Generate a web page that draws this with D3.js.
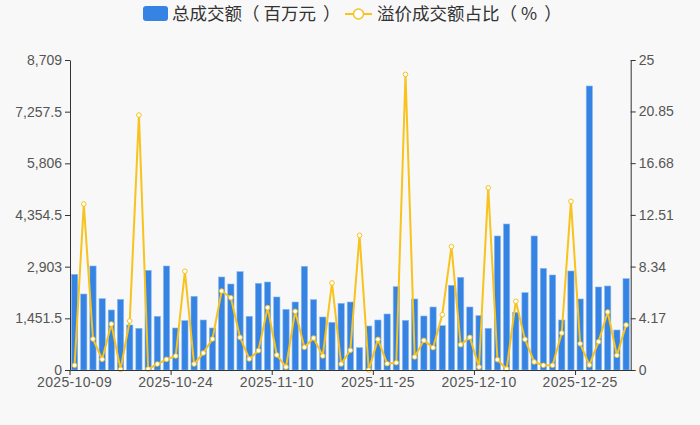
<!DOCTYPE html>
<html><head><meta charset="utf-8">
<script src="https://cdn.jsdelivr.net/npm/d3@7/dist/d3.min.js"></script>
<style>
html,body{margin:0;padding:0;background:#f8f8f8;}
svg{display:block;font-family:"Noto Sans CJK SC","Noto Sans",sans-serif;}
</style></head>
<body><svg id="c" width="700" height="425"></svg>
<script>
const dates = ["2025-10-09","2025-10-10","2025-10-13","2025-10-14","2025-10-15","2025-10-16","2025-10-17","2025-10-20","2025-10-21","2025-10-22","2025-10-23","2025-10-24","2025-10-27","2025-10-28","2025-10-29","2025-10-30","2025-10-31",
"2025-11-03","2025-11-04","2025-11-05","2025-11-06","2025-11-07","2025-11-10","2025-11-11","2025-11-12","2025-11-13","2025-11-14","2025-11-17","2025-11-18","2025-11-19","2025-11-20","2025-11-21","2025-11-24","2025-11-25","2025-11-26","2025-11-27","2025-11-28",
"2025-12-01","2025-12-02","2025-12-03","2025-12-04","2025-12-05","2025-12-08","2025-12-09","2025-12-10","2025-12-11","2025-12-12","2025-12-15","2025-12-16","2025-12-17","2025-12-18","2025-12-19","2025-12-22","2025-12-23","2025-12-24","2025-12-25","2025-12-26","2025-12-29","2025-12-30","2025-12-31","2026-01-05"];
const totalVolume = [2688,2135,2922,2004,1686,1985,1264,1171,2800,1508,
2922,1180,1386,2070,1405,1180,2613,2416,2763,1508,
2435,2472,2051,1704,1910,2913,1976,1489,1339,1873,
1910,627,1236,1405,1573,2341,1395,1995,1517,1770,
1246,2379,2603,1770,1526,1171,3765,4102,1620,2173,
3765,2856,2669,1405,2781,1995,7979,2332,2360,1124,2566];
const premiumShare = [0.38,13.39,2.50,0.86,3.71,0.05,3.95,20.56,0.08,0.48,
0.86,1.13,7.96,0.48,1.37,2.50,6.37,5.83,2.63,0.89,
1.56,5.03,1.21,0.24,4.73,1.83,2.58,1.13,7.02,0.48,
1.59,10.86,0.00,2.47,0.51,0.59,23.84,1.05,2.39,1.80,
4.46,9.95,2.04,2.63,0.24,14.70,0.83,0.08,5.54,2.47,
0.65,0.38,0.38,2.98,13.60,2.12,0.40,2.28,4.68,1.18,3.63];
const xTickLabels = ["2025-10-09","2025-10-24","2025-11-10","2025-11-25","2025-12-10","2025-12-25"];
const leftTicks = [0,1451.5,2903,4354.5,5806,7257.5,8709];
const rightTicks = [0,4.17,8.34,12.51,16.68,20.85,25];
const seriesNames = [["总成交额","（","百万元","）"],["溢价成交额占比","（","%","）"]];

const BLUE="#3584e4", YEL="#f7c31c", AX="#333", TXT="#555";
const L=70, R=630.7, T=60, B=370;
const svg=d3.select("#c");
const x=d3.scaleBand().domain(dates).range([L,R]).padding(0);
const yL=d3.scaleLinear().domain([0,8709]).range([B,T]);
const yR=d3.scaleLinear().domain([0,25]).range([B,T]);
const bw=x.bandwidth(), barW=bw*0.68;

// bars
svg.append("g").selectAll("rect").data(dates).join("rect")
 .attr("x",(d)=>x(d)+(bw-barW)/2)
 .attr("y",(d,i)=>yL(totalVolume[i]))
 .attr("width",barW)
 .attr("height",(d,i)=>B-yL(totalVolume[i]))
 .attr("fill",BLUE).attr("stroke","#8cb8ee").attr("stroke-width",0.6);

// line
const line=d3.line().x((d,i)=>x(dates[i])+bw/2).y(d=>yR(d));
svg.append("path").datum(premiumShare).attr("d",line)
 .attr("fill","none").attr("stroke",YEL).attr("stroke-width",2).attr("stroke-linejoin","round");
svg.append("g").selectAll("circle").data(premiumShare).join("circle")
 .attr("cx",(d,i)=>x(dates[i])+bw/2).attr("cy",d=>yR(d)).attr("r",2.3)
 .attr("fill","#fff").attr("stroke",YEL).attr("stroke-width",1);

const tickFont='"Liberation Sans","Noto Sans",sans-serif';
// left axis
const gl=svg.append("g").attr("transform",`translate(${L},0)`)
 .call(d3.axisLeft(yL).tickValues(leftTicks).tickFormat(d3.format(",")).tickSize(5).tickSizeOuter(0).tickPadding(3));
// right axis
const gr=svg.append("g").attr("transform",`translate(${R},0)`)
 .call(d3.axisRight(yR).tickValues(rightTicks).tickFormat(d=>String(d)).tickSize(5).tickSizeOuter(0).tickPadding(3));
// bottom axis: labels centered on bands, ticks at band starts
const gb=svg.append("g").attr("transform",`translate(0,${B})`)
 .call(d3.axisBottom(x).tickValues(xTickLabels).tickSize(0).tickSizeOuter(0).tickPadding(7));
gb.selectAll(".tick").each(function(d){
  d3.select(this).append("line").attr("x1",-bw/2).attr("x2",-bw/2).attr("y1",0).attr("y2",5).attr("stroke",AX);
});
[gl,gr,gb].forEach(g=>{
  g.select(".domain").attr("stroke",AX).attr("stroke-width",1);
  g.selectAll(".tick line").attr("stroke",AX);
  g.selectAll("text").attr("fill",TXT).style("font-size","14px").style("font-family",tickFont);
});
gb.selectAll("text").attr("letter-spacing","0.35px");

// legend
const lg=svg.append("g");
const legendDx=[0,0,4,7];
function legendText(xpos,parts){
  const t=lg.append("text").attr("x",xpos).attr("y",20).attr("fill","#333").style("font-size","17.5px");
  parts.forEach((p,k)=>{
    t.append("tspan").attr("dx",legendDx[k]).text(p);
  });
}
lg.append("rect").attr("x",143).attr("y",6).attr("width",25).attr("height",15).attr("rx",3).attr("fill",BLUE);
legendText(172,seriesNames[0]);
lg.append("line").attr("x1",345).attr("x2",372).attr("y1",14).attr("y2",14).attr("stroke",YEL).attr("stroke-width",2);
lg.append("circle").attr("cx",358.5).attr("cy",14).attr("r",5).attr("fill","#fff").attr("stroke",YEL).attr("stroke-width",1.5);
legendText(377,seriesNames[1]);
</script></body></html>
